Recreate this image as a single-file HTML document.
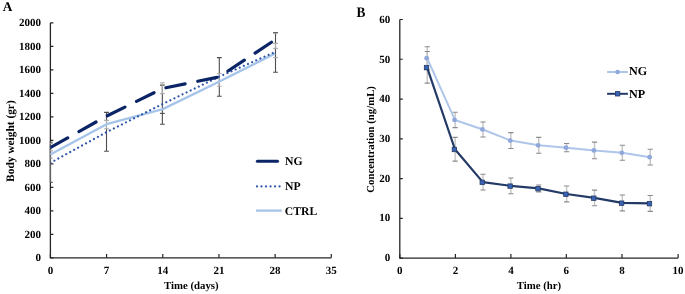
<!DOCTYPE html>
<html><head><meta charset="utf-8"><style>
html,body{margin:0;padding:0;background:#fff;width:685px;height:294px;overflow:hidden}
svg{display:block;will-change:transform}
text{font-family:"Liberation Serif",serif;font-weight:bold;fill:#000;text-rendering:geometricPrecision}
</style></head><body>
<svg width="685" height="294" viewBox="0 0 685 294">
<defs><clipPath id="cpA"><rect x="50.4" y="0" width="300" height="260"/></clipPath></defs>
<text transform="translate(2.75,10.70) scale(1.0,1.0)" font-size="13.3">A</text>
<text transform="translate(356.60,16.50) scale(1.0,1.1)" font-size="13.3">B</text>
<path d="M50.4,22.8 V257.8 H331.3" fill="none" stroke="#262626" stroke-width="1.3"/>
<path d="M50.4,257.80 h3 M50.4,234.30 h3 M50.4,210.80 h3 M50.4,187.30 h3 M50.4,163.80 h3 M50.4,140.30 h3 M50.4,116.80 h3 M50.4,93.30 h3 M50.4,69.80 h3 M50.4,46.30 h3 M50.4,22.80 h3 M50.40,257.8 v-3.8 M106.58,257.8 v-3.8 M162.76,257.8 v-3.8 M218.94,257.8 v-3.8 M275.12,257.8 v-3.8 M331.30,257.8 v-3.8" stroke="#262626" stroke-width="1.2" fill="none"/>
<text transform="translate(41.10,261.40) scale(1.0,1.0)" font-size="11" text-anchor="end">0</text>
<text transform="translate(41.10,237.90) scale(1.0,1.0)" font-size="11" text-anchor="end">200</text>
<text transform="translate(41.10,214.40) scale(1.0,1.0)" font-size="11" text-anchor="end">400</text>
<text transform="translate(41.10,190.90) scale(1.0,1.0)" font-size="11" text-anchor="end">600</text>
<text transform="translate(41.10,167.40) scale(1.0,1.0)" font-size="11" text-anchor="end">800</text>
<text transform="translate(41.10,143.90) scale(1.0,1.0)" font-size="11" text-anchor="end">1000</text>
<text transform="translate(41.10,120.40) scale(1.0,1.0)" font-size="11" text-anchor="end">1200</text>
<text transform="translate(41.10,96.90) scale(1.0,1.0)" font-size="11" text-anchor="end">1400</text>
<text transform="translate(41.10,73.40) scale(1.0,1.0)" font-size="11" text-anchor="end">1600</text>
<text transform="translate(41.10,49.90) scale(1.0,1.0)" font-size="11" text-anchor="end">1800</text>
<text transform="translate(41.10,26.40) scale(1.0,1.0)" font-size="11" text-anchor="end">2000</text>
<text transform="translate(50.40,274.40) scale(1.0,1.0)" font-size="11" text-anchor="middle">0</text>
<text transform="translate(106.58,274.40) scale(1.0,1.0)" font-size="11" text-anchor="middle">7</text>
<text transform="translate(162.76,274.40) scale(1.0,1.0)" font-size="11" text-anchor="middle">14</text>
<text transform="translate(218.94,274.40) scale(1.0,1.0)" font-size="11" text-anchor="middle">21</text>
<text transform="translate(275.12,274.40) scale(1.0,1.0)" font-size="11" text-anchor="middle">28</text>
<text transform="translate(331.30,274.40) scale(1.0,1.0)" font-size="11" text-anchor="middle">35</text>
<text transform="translate(191.30,288.60) scale(1.0,1.0)" font-size="10.8" text-anchor="middle">Time (days)</text>
<text transform="translate(14.00,141.10) rotate(-90) scale(1.0,1.0)" font-size="11.4" text-anchor="middle">Body weight (gr)</text>
<path d="M50.40,150.7 V158.1" stroke="#ababab" stroke-width="1.3" fill="none"/>
<path d="M50.40,143.5 V150.7" stroke="#ababab" stroke-width="1.3" fill="none"/>
<path d="M50.40,142.2 V182.4" stroke="#5f5f5f" stroke-width="1.3" fill="none"/>
<path d="M48.00,142.2 h4.8 M48.00,182.4 h4.8" stroke="#5f5f5f" stroke-width="1.1" fill="none" clip-path="url(#cpA)"/>
<path d="M48.00,143.5 h4.8 M48.00,150.7 h4.8" stroke="#ababab" stroke-width="1.1" fill="none" clip-path="url(#cpA)"/>
<path d="M48.00,150.7 h4.8 M48.00,158.1 h4.8" stroke="#ababab" stroke-width="1.1" fill="none" clip-path="url(#cpA)"/>
<path d="M106.50,112.4 V151.3 M104.10,112.4 h4.8 M104.10,151.3 h4.8" stroke="#4d4d4d" stroke-width="1.1" fill="none"/>
<path d="M106.50,120.4 V128.8 M104.10,120.4 h4.8 M104.10,128.8 h4.8" stroke="#ababab" stroke-width="1.1" fill="none"/>
<path d="M162.35,85.1 V124.3 M159.95,85.1 h4.8 M159.95,124.3 h4.8" stroke="#4d4d4d" stroke-width="1.1" fill="none"/>
<path d="M162.35,82.8 V93.6 M159.95,82.8 h4.8 M159.95,93.6 h4.8" stroke="#ababab" stroke-width="1.1" fill="none"/>
<path d="M159.95,113.4 h4.8" stroke="#4d4d4d" stroke-width="1.1" fill="none"/>
<path d="M219.30,57.6 V96.3 M216.90,57.6 h4.8 M216.90,96.3 h4.8" stroke="#4d4d4d" stroke-width="1.1" fill="none"/>
<path d="M219.30,73.5 V86.3 M216.90,73.5 h4.8 M216.90,86.3 h4.8" stroke="#ababab" stroke-width="1.1" fill="none"/>
<path d="M275.50,32.6 V72.3 M273.10,32.6 h4.8 M273.10,72.3 h4.8" stroke="#4d4d4d" stroke-width="1.1" fill="none"/>
<path d="M273.10,33.3 h4.8" stroke="#ababab" stroke-width="1.1" fill="none"/>
<path d="M275.50,43.4 V48.4 M273.10,43.4 h4.8 M273.10,48.4 h4.8" stroke="#ababab" stroke-width="1.1" fill="none"/>
<path d="M273.10,57.6 h4.8" stroke="#ababab" stroke-width="1.1" fill="none"/>
<polyline points="50.40,154.60 106.58,124.20 162.76,109.10 218.94,81.80 275.12,53.50" fill="none" stroke="#a6c3e9" stroke-width="2.3" stroke-linejoin="round"/>
<polyline points="50.40,162.80 106.58,132.10 162.76,103.90 218.94,76.80 275.12,52.00" fill="none" stroke="#2e56a6" stroke-width="2.2" stroke-dasharray="0.01 4.5" stroke-linecap="round" stroke-linejoin="round" clip-path="url(#cpA)"/>
<polyline points="50.40,147.50 106.58,116.10 162.76,88.40 218.94,77.00 275.12,39.80" fill="none" stroke="#0a2466" stroke-width="3.2" stroke-dasharray="19.6 12.9" stroke-dashoffset="-0.17" stroke-linecap="round" stroke-linejoin="round" clip-path="url(#cpA)"/>
<path d="M257.4,161.3 H277.5" stroke="#0a2466" stroke-width="3.1" stroke-linecap="round"/>
<path d="M257,186.4 H281" stroke="#2e56a6" stroke-width="2.2" stroke-dasharray="0.01 4.5" stroke-linecap="round"/>
<path d="M256,210.6 H281.7" stroke="#a6c3e9" stroke-width="2.3"/>
<text transform="translate(285.10,165.10) scale(1.0,1.0)" font-size="11.7">NG</text>
<text transform="translate(285.10,189.90) scale(1.0,1.0)" font-size="11.7">NP</text>
<text transform="translate(284.80,214.60) scale(1.0,1.0)" font-size="11.7">CTRL</text>
<path d="M399.8,19.5 V258.1 H678.1" fill="none" stroke="#262626" stroke-width="1.3"/>
<path d="M399.8,258.10 h3 M399.8,218.33 h3 M399.8,178.57 h3 M399.8,138.80 h3 M399.8,99.03 h3 M399.8,59.27 h3 M399.8,19.50 h3 M399.80,258.1 v-4.1 M455.40,258.1 v-4.1 M510.90,258.1 v-4.1 M566.30,258.1 v-4.1 M622.00,258.1 v-4.1 M678.10,258.1 v-4.1" stroke="#262626" stroke-width="1.2" fill="none"/>
<text transform="translate(390.30,260.90) scale(1.0,1.0)" font-size="11" text-anchor="end">0</text>
<text transform="translate(390.30,221.27) scale(1.0,1.0)" font-size="11" text-anchor="end">10</text>
<text transform="translate(390.30,181.63) scale(1.0,1.0)" font-size="11" text-anchor="end">20</text>
<text transform="translate(390.30,142.00) scale(1.0,1.0)" font-size="11" text-anchor="end">30</text>
<text transform="translate(390.30,102.37) scale(1.0,1.0)" font-size="11" text-anchor="end">40</text>
<text transform="translate(390.30,62.73) scale(1.0,1.0)" font-size="11" text-anchor="end">50</text>
<text transform="translate(390.30,23.10) scale(1.0,1.0)" font-size="11" text-anchor="end">60</text>
<text transform="translate(399.80,274.40) scale(1.0,1.0)" font-size="11" text-anchor="middle">0</text>
<text transform="translate(455.40,274.40) scale(1.0,1.0)" font-size="11" text-anchor="middle">2</text>
<text transform="translate(510.90,274.40) scale(1.0,1.0)" font-size="11" text-anchor="middle">4</text>
<text transform="translate(566.30,274.40) scale(1.0,1.0)" font-size="11" text-anchor="middle">6</text>
<text transform="translate(622.00,274.40) scale(1.0,1.0)" font-size="11" text-anchor="middle">8</text>
<text transform="translate(678.10,274.40) scale(1.0,1.0)" font-size="11" text-anchor="middle">10</text>
<text transform="translate(538.90,289.10) scale(1.0,1.0)" font-size="10.8" text-anchor="middle">Time (hr)</text>
<text transform="translate(374.40,139.40) rotate(-90) scale(1.0,1.0)" font-size="10.75" text-anchor="middle">Concentration (ng/mL)</text>
<path d="M427.27,46.72 V69.68" stroke="#c4c4c4" stroke-width="1.4" fill="none"/>
<path d="M424.67,46.72 h5.2 M424.67,69.68 h5.2" stroke="#8a8a8a" stroke-width="1.1" fill="none"/>
<path d="M455.14,112.23 V127.66" stroke="#c4c4c4" stroke-width="1.4" fill="none"/>
<path d="M452.54,112.23 h5.2 M452.54,127.66 h5.2" stroke="#8a8a8a" stroke-width="1.1" fill="none"/>
<path d="M483.01,121.93 V136.97" stroke="#c4c4c4" stroke-width="1.4" fill="none"/>
<path d="M480.41,121.93 h5.2 M480.41,136.97 h5.2" stroke="#8a8a8a" stroke-width="1.1" fill="none"/>
<path d="M510.88,132.61 V148.45" stroke="#c4c4c4" stroke-width="1.4" fill="none"/>
<path d="M508.28,132.61 h5.2 M508.28,148.45 h5.2" stroke="#8a8a8a" stroke-width="1.1" fill="none"/>
<path d="M538.75,137.36 V153.20" stroke="#c4c4c4" stroke-width="1.4" fill="none"/>
<path d="M536.15,137.36 h5.2 M536.15,153.20 h5.2" stroke="#8a8a8a" stroke-width="1.1" fill="none"/>
<path d="M566.62,143.54 V151.77" stroke="#c4c4c4" stroke-width="1.4" fill="none"/>
<path d="M564.02,143.54 h5.2 M564.02,151.77 h5.2" stroke="#8a8a8a" stroke-width="1.1" fill="none"/>
<path d="M594.49,142.11 V158.74" stroke="#c4c4c4" stroke-width="1.4" fill="none"/>
<path d="M591.89,142.11 h5.2 M591.89,158.74 h5.2" stroke="#8a8a8a" stroke-width="1.1" fill="none"/>
<path d="M622.36,145.28 V160.32" stroke="#c4c4c4" stroke-width="1.4" fill="none"/>
<path d="M619.76,145.28 h5.2 M619.76,160.32 h5.2" stroke="#8a8a8a" stroke-width="1.1" fill="none"/>
<path d="M650.23,149.24 V165.07" stroke="#c4c4c4" stroke-width="1.4" fill="none"/>
<path d="M647.63,149.24 h5.2 M647.63,165.07 h5.2" stroke="#8a8a8a" stroke-width="1.1" fill="none"/>
<path d="M427.27,51.47 V83.13" stroke="#c4c4c4" stroke-width="1.4" fill="none"/>
<path d="M424.67,51.47 h5.2 M424.67,83.13 h5.2" stroke="#8a8a8a" stroke-width="1.1" fill="none"/>
<path d="M455.14,137.36 V161.11" stroke="#c4c4c4" stroke-width="1.4" fill="none"/>
<path d="M452.54,137.36 h5.2 M452.54,161.11 h5.2" stroke="#8a8a8a" stroke-width="1.1" fill="none"/>
<path d="M483.01,174.18 V190.01" stroke="#c4c4c4" stroke-width="1.4" fill="none"/>
<path d="M480.41,174.18 h5.2 M480.41,190.01 h5.2" stroke="#8a8a8a" stroke-width="1.1" fill="none"/>
<path d="M510.88,177.94 V193.77" stroke="#c4c4c4" stroke-width="1.4" fill="none"/>
<path d="M508.28,177.94 h5.2 M508.28,193.77 h5.2" stroke="#8a8a8a" stroke-width="1.1" fill="none"/>
<path d="M538.75,185.02 V191.83" stroke="#c4c4c4" stroke-width="1.4" fill="none"/>
<path d="M536.15,185.02 h5.2 M536.15,191.83 h5.2" stroke="#8a8a8a" stroke-width="1.1" fill="none"/>
<path d="M566.62,186.05 V201.88" stroke="#c4c4c4" stroke-width="1.4" fill="none"/>
<path d="M564.02,186.05 h5.2 M564.02,201.88 h5.2" stroke="#8a8a8a" stroke-width="1.1" fill="none"/>
<path d="M594.49,190.17 V205.68" stroke="#c4c4c4" stroke-width="1.4" fill="none"/>
<path d="M591.89,190.17 h5.2 M591.89,205.68 h5.2" stroke="#8a8a8a" stroke-width="1.1" fill="none"/>
<path d="M622.36,195.00 V210.83" stroke="#c4c4c4" stroke-width="1.4" fill="none"/>
<path d="M619.76,195.00 h5.2 M619.76,210.83 h5.2" stroke="#8a8a8a" stroke-width="1.1" fill="none"/>
<path d="M650.23,195.55 V211.38" stroke="#c4c4c4" stroke-width="1.4" fill="none"/>
<path d="M647.63,195.55 h5.2 M647.63,211.38 h5.2" stroke="#8a8a8a" stroke-width="1.1" fill="none"/>
<polyline points="427.07,58.20 454.94,119.95 482.81,129.45 510.68,140.53 538.55,145.28 566.42,147.65 594.29,150.43 622.16,152.80 650.03,157.15" fill="none" stroke="#afc5ea" stroke-width="2.0" stroke-linejoin="round"/>
<circle cx="426.67" cy="58.20" r="2.4" fill="#8fa7db"/>
<circle cx="454.54" cy="119.95" r="2.4" fill="#8fa7db"/>
<circle cx="482.41" cy="129.45" r="2.4" fill="#8fa7db"/>
<circle cx="510.28" cy="140.53" r="2.4" fill="#8fa7db"/>
<circle cx="538.15" cy="145.28" r="2.4" fill="#8fa7db"/>
<circle cx="566.02" cy="147.65" r="2.4" fill="#8fa7db"/>
<circle cx="593.89" cy="150.43" r="2.4" fill="#8fa7db"/>
<circle cx="621.76" cy="152.80" r="2.4" fill="#8fa7db"/>
<circle cx="649.63" cy="157.15" r="2.4" fill="#8fa7db"/>
<polyline points="427.07,67.30 454.94,149.24 482.81,182.09 510.68,185.85 538.55,188.43 566.42,193.97 594.29,197.93 622.16,202.91 650.03,203.47" fill="none" stroke="#233a66" stroke-width="2.2" stroke-linejoin="round"/>
<rect x="424.32" y="65.35" width="4.4" height="4.4" fill="#3a63b5" stroke="#233a66" stroke-width="0.8"/>
<rect x="452.19" y="147.29" width="4.4" height="4.4" fill="#3a63b5" stroke="#233a66" stroke-width="0.8"/>
<rect x="480.06" y="180.14" width="4.4" height="4.4" fill="#3a63b5" stroke="#233a66" stroke-width="0.8"/>
<rect x="507.93" y="183.90" width="4.4" height="4.4" fill="#3a63b5" stroke="#233a66" stroke-width="0.8"/>
<rect x="535.80" y="186.48" width="4.4" height="4.4" fill="#3a63b5" stroke="#233a66" stroke-width="0.8"/>
<rect x="563.67" y="192.02" width="4.4" height="4.4" fill="#3a63b5" stroke="#233a66" stroke-width="0.8"/>
<rect x="591.54" y="195.98" width="4.4" height="4.4" fill="#3a63b5" stroke="#233a66" stroke-width="0.8"/>
<rect x="619.41" y="200.96" width="4.4" height="4.4" fill="#3a63b5" stroke="#233a66" stroke-width="0.8"/>
<rect x="647.28" y="201.52" width="4.4" height="4.4" fill="#3a63b5" stroke="#233a66" stroke-width="0.8"/>
<path d="M607.1,72 H627.9" stroke="#afc5ea" stroke-width="2"/>
<circle cx="617.6" cy="72" r="2.3" fill="#8fa7db"/>
<path d="M607.1,93.8 H627.9" stroke="#233a66" stroke-width="2"/>
<rect x="615.4" y="91.6" width="4.4" height="4.4" fill="#3a63b5" stroke="#233a66" stroke-width="0.8"/>
<text transform="translate(628.90,74.80) scale(1.0,1.0)" font-size="12.1">NG</text>
<text transform="translate(628.90,97.90) scale(1.0,1.0)" font-size="12.1">NP</text>
</svg>
</body></html>
